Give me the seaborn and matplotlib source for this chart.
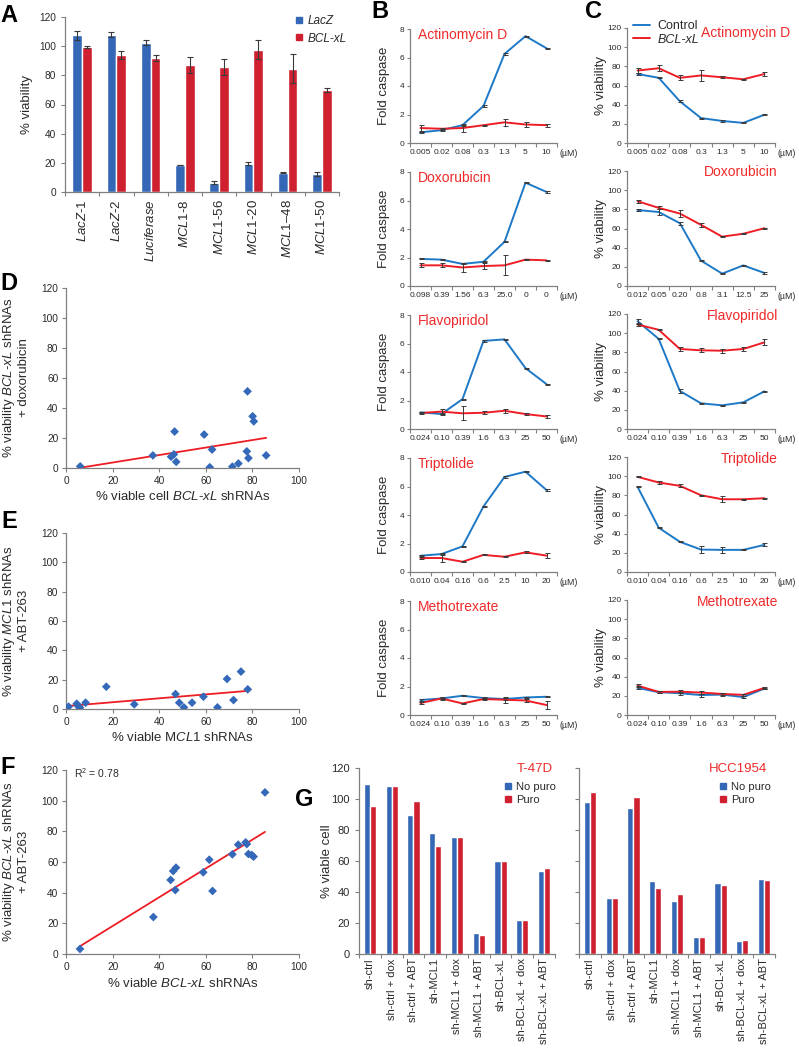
import numpy as np
import pandas as pd
import matplotlib
matplotlib.use("Agg")
import matplotlib.pyplot as plt
from matplotlib.lines import Line2D
import seaborn as sns

# ---------------- DATA ----------------
# Panel A
a_labels = [r"$\mathit{LacZ}$-1", r"$\mathit{LacZ}$-2", r"$\mathit{Luciferase}$", r"$\mathit{MCL1}$-8",
            r"$\mathit{MCL1}$-56", r"$\mathit{MCL1}$-20", r"$\mathit{MCL1}$–48", r"$\mathit{MCL1}$-50"]
a_lacz = [107.5, 108, 102.5, 18.5, 6.5, 19.5, 13.3, 12.5]
a_lacz_err = [3, 1.5, 2, 0.3, 1, 1, 0.5, 1.5]
a_bclxl = [99.5, 94, 92, 87, 86, 97.5, 84.5, 70]
a_bclxl_err = [0.5, 2.5, 2, 5.5, 5.5, 6.5, 10, 1.5]

# Panels B / C : drug names and dose tick labels
drug_names = ["Actinomycin D", "Doxorubicin", "Flavopiridol", "Triptolide", "Methotrexate"]
actd_dose = ["0.005", "0.02", "0.08", "0.3", "1.3", "5", "10"]
dox_dose_b = ["0.098", "0.39", "1.56", "6.3", "25.0", "0", "0"]
dox_dose_c = ["0.012", "0.05", "0.20", "0.8", "3.1", "12.5", "25"]
flavo_dose = ["0.024", "0.10", "0.39", "1.6", "6.3", "25", "50"]
trip_dose = ["0.010", "0.04", "0.16", "0.6", "2.5", "10", "20"]
mtx_dose = ["0.024", "0.10", "0.39", "1.6", "6.3", "25", "50"]

# Panel B: fold caspase
actd_casp_ctrl = [0.75, 0.9, 1.25, 2.6, 6.25, 7.5, 6.65]
actd_casp_ctrl_err = [0.04, 0.04, 0.04, 0.04, 0.04, 0.04, 0.04]
actd_casp_bcl = [1.05, 1.0, 1.05, 1.25, 1.45, 1.3, 1.25]
actd_casp_bcl_err = [0.2, 0.04, 0.25, 0.04, 0.25, 0.2, 0.1]
dox_casp_ctrl = [1.9, 1.85, 1.55, 1.7, 3.1, 7.25, 6.6]
dox_casp_ctrl_err = [0.04, 0.04, 0.04, 0.04, 0.04, 0.04, 0.04]
dox_casp_bcl = [1.45, 1.45, 1.3, 1.4, 1.45, 1.85, 1.8]
dox_casp_bcl_err = [0.15, 0.15, 0.3, 0.2, 0.7, 0.05, 0.05]
flavo_casp_ctrl = [1.17, 1.05, 2.1, 6.18, 6.29, 4.27, 3.15]
flavo_casp_ctrl_err = [0.04, 0.04, 0.04, 0.04, 0.04, 0.04, 0.04]
flavo_casp_bcl = [1.12, 1.22, 1.1, 1.14, 1.28, 1.05, 0.88]
flavo_casp_bcl_err = [0.1, 0.2, 0.5, 0.12, 0.15, 0.05, 0.1]
trip_casp_ctrl = [1.14, 1.26, 1.8, 4.6, 6.67, 7.04, 5.75]
trip_casp_ctrl_err = [0.04, 0.04, 0.04, 0.04, 0.04, 0.04, 0.04]
trip_casp_bcl = [0.98, 0.98, 0.72, 1.2, 1.07, 1.38, 1.15]
trip_casp_bcl_err = [0.08, 0.25, 0.03, 0.03, 0.03, 0.08, 0.2]
mtx_casp_ctrl = [1.05, 1.16, 1.35, 1.19, 1.12, 1.23, 1.28]
mtx_casp_ctrl_err = [0.04, 0.04, 0.04, 0.04, 0.04, 0.04, 0.04]
mtx_casp_bcl = [0.84, 1.16, 0.81, 1.12, 1.07, 1.02, 0.7]
mtx_casp_bcl_err = [0.05, 0.08, 0.03, 0.1, 0.2, 0.08, 0.3]

# Panel C: % viability
actd_via_ctrl = [72, 68, 43.5, 26, 23, 21, 29.5]
actd_via_ctrl_err = [1.5, 0.6, 1, 0.6, 0.6, 0.6, 0.6]
actd_via_bcl = [75.6, 78, 68, 70.5, 68.6, 66.5, 72]
actd_via_bcl_err = [2.5, 3, 2.5, 5.5, 1, 0.6, 2]
dox_via_ctrl = [79.3, 77.2, 65.5, 26.5, 12.9, 21.5, 13.6]
dox_via_ctrl_err = [1, 3, 1.5, 0.6, 0.6, 0.6, 0.6]
dox_via_bcl = [88.5, 81.5, 75.6, 63.8, 51.5, 54.5, 60.3]
dox_via_bcl_err = [1.5, 1.5, 4, 2, 0.6, 0.6, 0.6]
flavo_via_ctrl = [112.5, 94, 39.7, 26.8, 24.7, 27.8, 39.3]
flavo_via_ctrl_err = [2.5, 0.6, 2.5, 0.6, 0.6, 0.6, 0.6]
flavo_via_bcl = [109, 103.5, 83.5, 82.1, 81.7, 83.5, 90.4]
flavo_via_bcl_err = [1.5, 0.6, 2.5, 2, 2, 2, 3]
trip_via_ctrl = [88.8, 46.2, 31.5, 23.4, 23.1, 23.1, 28.3]
trip_via_ctrl_err = [0.6, 0.6, 0.6, 3.5, 3, 0.6, 1.5]
trip_via_bcl = [99.3, 93.4, 89.9, 80.1, 75.9, 75.9, 77.0]
trip_via_bcl_err = [0.6, 1.5, 1.5, 0.6, 3, 0.6, 0.6]
mtx_via_ctrl = [28.3, 23.8, 22.7, 20.8, 21.3, 18.7, 27.6]
mtx_via_ctrl_err = [1.5, 0.8, 1.5, 1.5, 1.2, 1.2, 0.8]
mtx_via_bcl = [30.6, 24.1, 24.3, 23.4, 22.0, 21.0, 28.3]
mtx_via_bcl_err = [1.5, 0.8, 1.5, 1.5, 1.2, 1.2, 0.8]

# Panel D
d_x = [6.1, 37.3, 45.1, 46.3, 46.6, 47.3, 59.3, 61.7, 62.7, 71.4, 74.0, 77.6, 77.9, 78.3, 80.1, 80.6, 85.9]
d_y = [1.1, 8.4, 7.5, 9.1, 24.3, 4.1, 22.3, 0.5, 12.3, 0.9, 3.0, 11.1, 51.1, 6.6, 34.5, 31.1, 8.4]
# Panel E
e_x = [1.1, 4.6, 5.4, 6.0, 8.4, 17.3, 29.3, 47.0, 48.6, 50.6, 54.1, 59.0, 65.0, 69.1, 71.9, 75.1, 78.0]
e_y = [1.6, 3.6, 1.6, 0.9, 4.3, 15.2, 3.2, 10.2, 4.3, 1.1, 4.3, 8.4, 1.1, 20.5, 6.1, 25.5, 13.4]
# Panel F
f_x = [6.0, 37.5, 44.9, 46.0, 46.9, 47.2, 58.9, 61.5, 62.9, 71.4, 73.9, 77.1, 77.6, 78.3, 79.7, 80.5, 85.4]
f_y = [3.3, 24.1, 48.3, 54.1, 41.7, 56.3, 53.3, 61.5, 41.1, 65.0, 71.3, 72.8, 71.7, 65.2, 64.6, 63.5, 105.4]
f_r2 = "0.78"

# Panel G
g_labels = ["sh-ctrl", "sh-ctrl + dox", "sh-ctrl + ABT", "sh-MCL1", "sh-MCL1 + dox",
            "sh-MCL1 + ABT", "sh-BCL-xL", "sh-BCL-xL + dox", "sh-BCL-xL + ABT"]
t47d_nopuro = [109.5, 108.5, 90.0, 78.0, 75.5, 13.5, 60.0, 22.0, 53.5]
t47d_puro = [95.5, 108.5, 99.0, 69.5, 75.5, 12.5, 60.0, 22.0, 55.5]
hcc_nopuro = [98.0, 36.3, 94.0, 47.0, 34.3, 11.0, 45.5, 8.5, 48.5]
hcc_puro = [104.5, 36.3, 101.5, 42.5, 38.5, 11.0, 44.3, 9.1, 48.0]

# ---------------- STYLE ----------------
W, H = 799, 1050
sns.set_style("ticks")
plt.rcParams['font.family'] = ['Liberation Sans', 'DejaVu Sans']
plt.rcParams['mathtext.fontset'] = 'custom'
plt.rcParams['mathtext.rm'] = 'Liberation Sans'
plt.rcParams['mathtext.it'] = 'Liberation Sans:italic'
plt.rcParams['mathtext.bf'] = 'Liberation Sans:bold'

BLUE_BAR = "#3467B5"
RED_BAR = "#CF2030"
BLUE_LINE = "#1D79C7"
RED_LINE = "#EE1D25"
BLUE_PT = "#3468B8"
RED_TXT = "#EE2A2A"
GRAY = "#808080"
TXT = "#2a2a2a"
ERR = "#3a3a3a"

fig = plt.figure(figsize=(W / 100, H / 100), dpi=100)
fig.patch.set_facecolor("white")


def add_ax(x0, y0, x1, y1):
    return fig.add_axes([x0 / W, 1 - y1 / H, (x1 - x0) / W, (y1 - y0) / H])


def style_ax(ax, fs):
    sns.despine(ax=ax)
    for s in ['left', 'bottom']:
        ax.spines[s].set_color(GRAY)
        ax.spines[s].set_linewidth(0.9)
    ax.tick_params(axis='both', which='both', colors=GRAY, labelcolor=TXT,
                   labelsize=fs, width=0.8, length=3, direction='out')
    ax.set_facecolor("none")


def cat_xaxis(ax, labels, fs, rot=0, pad=2.0):
    n = len(labels)
    ax.set_xlim(-0.5, n - 0.5)
    ax.set_xticks(range(n))
    ax.set_xticklabels(labels, fontsize=fs, rotation=rot,
                       va='top', ha='center')
    ax.set_xticks(np.arange(-0.5, n, 1.0), minor=True)
    ax.tick_params(axis='x', which='major', length=0, pad=pad)
    ax.tick_params(axis='x', which='minor', length=3, color=GRAY, width=0.8)


def letter(x, y, s):
    fig.text(x / W, 1 - y / H, s, fontsize=17, fontweight='bold', ha='center', va='center', color='black')


# ---------------- PANEL A ----------------
axA = add_ax(65, 17, 339, 192)
n_a = len(a_labels)
dfA = pd.DataFrame({'cat': list(range(n_a)) * 2, 'val': a_lacz + a_bclxl,
                    'grp': ['LacZ'] * n_a + ['BCL-xL'] * n_a})
sns.barplot(data=dfA, x='cat', y='val', hue='grp', hue_order=['LacZ', 'BCL-xL'],
            palette={'LacZ': BLUE_BAR, 'BCL-xL': RED_BAR}, width=0.57, saturation=1,
            errorbar=None, legend=False, ax=axA)
for cont, errs in zip(axA.containers, [a_lacz_err, a_bclxl_err]):
    xs = [b.get_x() + b.get_width() / 2 for b in cont]
    hs = [b.get_height() for b in cont]
    axA.errorbar(xs, hs, yerr=errs, fmt='none', ecolor=ERR, elinewidth=0.8, capsize=2.2, capthick=0.8)
style_ax(axA, 7.3)
axA.set_ylim(0, 120)
axA.set_yticks(range(0, 121, 20))
cat_xaxis(axA, a_labels, 9.5, rot=90, pad=5)
axA.set_xlabel("")
axA.set_ylabel("% viability", fontsize=9.5, color=TXT)
axA.yaxis.set_label_coords(-0.115, 0.5)
hA = [Line2D([], [], marker='s', ls='none', color=BLUE_BAR, markersize=4),
      Line2D([], [], marker='s', ls='none', color=RED_BAR, markersize=4)]
legA = axA.legend(hA, ['LacZ', 'BCL-xL'], loc='upper left', bbox_to_anchor=(0.84, 1.01),
                  frameon=False, fontsize=8.5, handlelength=0.7, handletextpad=0.35,
                  labelspacing=0.45, borderaxespad=0, borderpad=0)
for t in legA.get_texts():
    t.set_style('italic')
    t.set_color(TXT)

# ---------------- PANELS B / C ----------------
b_series = [
    (actd_dose, actd_casp_ctrl, actd_casp_ctrl_err, actd_casp_bcl, actd_casp_bcl_err),
    (dox_dose_b, dox_casp_ctrl, dox_casp_ctrl_err, dox_casp_bcl, dox_casp_bcl_err),
    (flavo_dose, flavo_casp_ctrl, flavo_casp_ctrl_err, flavo_casp_bcl, flavo_casp_bcl_err),
    (trip_dose, trip_casp_ctrl, trip_casp_ctrl_err, trip_casp_bcl, trip_casp_bcl_err),
    (mtx_dose, mtx_casp_ctrl, mtx_casp_ctrl_err, mtx_casp_bcl, mtx_casp_bcl_err),
]
c_series = [
    (actd_dose, actd_via_ctrl, actd_via_ctrl_err, actd_via_bcl, actd_via_bcl_err),
    (dox_dose_c, dox_via_ctrl, dox_via_ctrl_err, dox_via_bcl, dox_via_bcl_err),
    (flavo_dose, flavo_via_ctrl, flavo_via_ctrl_err, flavo_via_bcl, flavo_via_bcl_err),
    (trip_dose, trip_via_ctrl, trip_via_ctrl_err, trip_via_bcl, trip_via_bcl_err),
    (mtx_dose, mtx_via_ctrl, mtx_via_ctrl_err, mtx_via_bcl, mtx_via_bcl_err),
]
c_title_x = [1.105, 1.02, 1.02, 1.02, 1.02]
c_title_y = [0.955, 0.99, 0.98, 0.98, 0.98]


def line_panel(ax, doses, ctrl, ctrl_err, bcl, bcl_err, ymax, ystep, ylabel):
    n = len(doses)
    df = pd.DataFrame({'pos': list(range(n)) * 2, 'val': ctrl + bcl,
                       'grp': ['Control'] * n + ['BCL-xL'] * n})
    sns.lineplot(data=df, x='pos', y='val', hue='grp', hue_order=['Control', 'BCL-xL'],
                 palette={'Control': BLUE_LINE, 'BCL-xL': RED_LINE}, lw=1.4,
                 legend=False, ax=ax)
    ax.errorbar(range(n), ctrl, yerr=ctrl_err, fmt='none', ecolor=ERR, elinewidth=0.7, capsize=1.8, capthick=0.7)
    ax.errorbar(range(n), bcl, yerr=bcl_err, fmt='none', ecolor=ERR, elinewidth=0.7, capsize=1.8, capthick=0.7)
    style_ax(ax, 6)
    ax.set_ylim(0, ymax)
    ax.set_yticks(np.arange(0, ymax + 0.01, ystep))
    ax.tick_params(axis='y', pad=1.5, length=2.5)
    cat_xaxis(ax, doses, 6, pad=4)
    ax.set_xlabel("")
    ax.set_ylabel(ylabel, fontsize=9.5, color=TXT)
    ax.text(1.08, -0.088, "(µM)", transform=ax.transAxes, fontsize=6.3, color=TXT,
            ha='center', va='center')


for k in range(5):
    top = 29 + 143 * k
    bot = 143 + 143 * k
    axB = add_ax(410, top, 557, bot)
    line_panel(axB, *b_series[k], 8, 2, "Fold caspase")
    axB.yaxis.set_label_coords(-0.135, 0.5)
    axB.text(0.055, 0.945, drug_names[k], transform=axB.transAxes, color=RED_TXT,
             fontsize=10, ha='left', va='center')

    axC = add_ax(627, top - 1, 775, bot)
    line_panel(axC, *c_series[k], 120, 20, "% viability")
    axC.yaxis.set_label_coords(-0.135, 0.5)
    axC.text(c_title_x[k], c_title_y[k], drug_names[k], transform=axC.transAxes, color=RED_TXT,
             fontsize=10, ha='right', va='center')
    if k == 0:
        hC = [Line2D([], [], color=BLUE_LINE, lw=1.4), Line2D([], [], color=RED_LINE, lw=1.4)]
        legC = axC.legend(hC, ['Control', 'BCL-xL'], loc='upper left', bbox_to_anchor=(0.04, 1.07),
                          frameon=False, fontsize=9, handlelength=1.4, handletextpad=0.55,
                          labelspacing=0.15, borderaxespad=0, borderpad=0)
        legC.get_texts()[1].set_style('italic')
        for t in legC.get_texts():
            t.set_color(TXT)

# ---------------- PANELS D / E / F ----------------
def scatter_panel(ax, xs, ys, xlabel, ylabel):
    sns.regplot(x=np.array(xs), y=np.array(ys), scatter=False, ci=None, truncate=True,
                line_kws={'color': RED_LINE, 'lw': 1.3}, ax=ax)
    sns.scatterplot(x=xs, y=ys, marker='D', s=20, color=BLUE_PT, edgecolor='none', ax=ax, zorder=3)
    style_ax(ax, 7.3)
    ax.set_xlim(0, 100)
    ax.set_ylim(0, 120)
    ax.set_xticks(range(0, 101, 20))
    ax.set_yticks(range(0, 121, 20))
    ax.tick_params(axis='both', pad=2.5)
    ax.set_xlabel(xlabel, fontsize=9.5, color=TXT, va='top')
    ax.xaxis.set_label_coords(0.5, -0.125)
    ax.set_ylabel(ylabel, fontsize=9.5, color=TXT, linespacing=1.15)
    ax.yaxis.set_label_coords(-0.155, 0.5)


axD = add_ax(66, 288, 299, 468)
scatter_panel(axD, d_x, d_y, r"% viable cell $\mathit{BCL}$-$\mathit{xL}$ shRNAs",
              "% viability $\\mathit{BCL}$-$\\mathit{xL}$ shRNAs\n+ doxorubicin")
axE = add_ax(66, 533, 299, 709)
scatter_panel(axE, e_x, e_y, r"% viable M$\mathit{CL1}$ shRNAs",
              "% viability $\\mathit{MCL1}$ shRNAs\n+ ABT-263")
axF = add_ax(66, 770, 299, 954)
scatter_panel(axF, f_x, f_y, r"% viable $\mathit{BCL}$-$\mathit{xL}$ shRNAs",
              "% viability $\\mathit{BCL}$-$\\mathit{xL}$ shRNAs\n+ ABT-263")
axF.text(0.035, 0.985, "R$^2$ = " + f_r2, transform=axF.transAxes, fontsize=7.5, color=TXT,
         ha='left', va='center')

# ---------------- PANEL G ----------------
def group_bars(ax, nopuro, puro, title, legx, show_ylabels):
    n = len(g_labels)
    df = pd.DataFrame({'cat': list(range(n)) * 2, 'val': nopuro + puro,
                       'grp': ['No puro'] * n + ['Puro'] * n})
    sns.barplot(data=df, x='cat', y='val', hue='grp', hue_order=['No puro', 'Puro'],
                palette={'No puro': BLUE_BAR, 'Puro': RED_BAR}, width=0.56, saturation=1,
                errorbar=None, legend=False, ax=ax)
    style_ax(ax, 8)
    ax.set_ylim(0, 120)
    ax.set_yticks(range(0, 121, 20))
    cat_xaxis(ax, g_labels, 8, rot=90, pad=3)
    ax.set_xlabel("")
    if show_ylabels:
        ax.set_ylabel("% viable cell", fontsize=9.5, color=TXT)
        ax.yaxis.set_label_coords(-0.135, 0.5)
    else:
        ax.set_ylabel("")
        ax.set_yticklabels([])
    ax.text(0.99 if show_ylabels else 0.96, 0.995, title, transform=ax.transAxes, color=RED_TXT,
            fontsize=9.5, ha='right', va='center')
    hG = [Line2D([], [], marker='s', ls='none', color=BLUE_BAR, markersize=4),
          Line2D([], [], marker='s', ls='none', color=RED_BAR, markersize=4)]
    leg = ax.legend(hG, ['No puro', 'Puro'], loc='upper left', bbox_to_anchor=(legx, 0.925),
                    frameon=False, fontsize=8, handlelength=0.7, handletextpad=0.35,
                    labelspacing=0.3, borderaxespad=0, borderpad=0)
    for t in leg.get_texts():
        t.set_color(TXT)


axG1 = add_ax(359, 768, 555, 954)
group_bars(axG1, t47d_nopuro, t47d_puro, "T-47D", 0.74, True)
axG2 = add_ax(579, 768, 775, 954)
group_bars(axG2, hcc_nopuro, hcc_puro, "HCC1954", 0.715, False)

# ---------------- PANEL LETTERS ----------------
letter(9, 15, "A")
letter(380, 12, "B")
letter(594, 11, "C")
letter(9, 283, "D")
letter(9, 522, "E")
letter(8, 768, "F")
letter(304, 800, "G")

fig.savefig("out.png", dpi=100)
